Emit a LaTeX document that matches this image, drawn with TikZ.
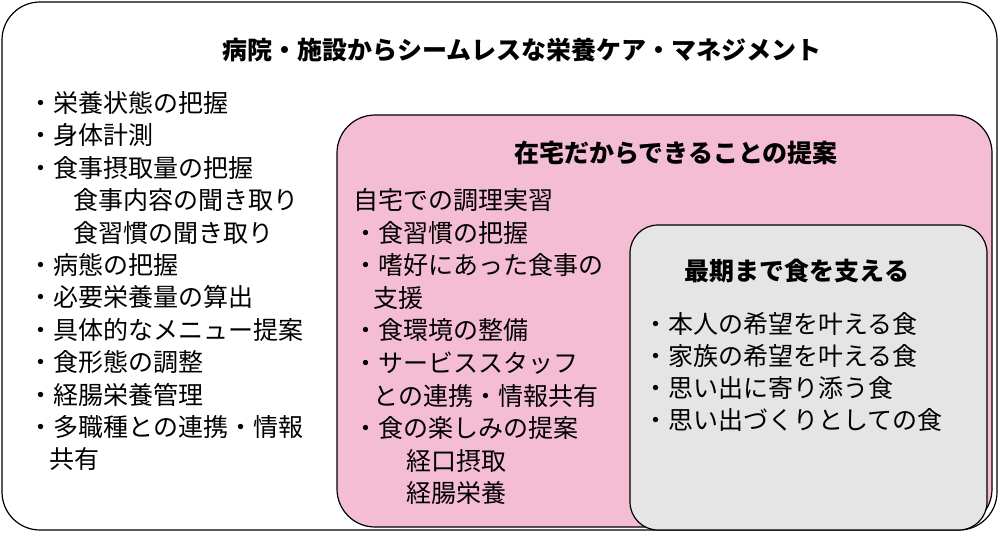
\documentclass[tikz,border=0pt]{standalone}
\usepackage{fontspec}
\setmainfont{Noto Sans CJK JP}
\definecolor{pinkbg}{RGB}{245,189,212}
\definecolor{graybg}{RGB}{229,229,229}
\tikzset{every picture/.style={line width=1.2pt}}
\tikzset{
  panel/.style={draw, rounded corners=38pt},
  item/.style={anchor=west, inner sep=0pt, font=\fontsize{25}{28}\selectfont},
  head/.style={inner sep=0pt, font=\fontsize{25}{28}\selectfont\bfseries}
}
\begin{document}
\begin{tikzpicture}[x=1pt,y=1pt,yscale=-1]
  \useasboundingbox (0,0) rectangle (1000,533);

  \draw [panel, fill=white] (2,2) rectangle (997,530);
  \draw [panel, fill=pinkbg] (337,115) rectangle (992,527);
  \draw [panel, fill=graybg, rounded corners=28pt] (630,225) rectangle (987,530);

  \node [head] (title) at (522,50) {病院・施設からシームレスな栄養ケア・マネジメント};
  \node [head] (hometitle) at (676,153) {在宅だからできることの提案};
  \node [head] (lasttitle) at (797,271) {最期まで食を支える};

  % left list
  \foreach \t [count=\i] in {・栄養状態の把握, ・身体計測, ・食事摂取量の把握,
      \hspace{1.8em}食事内容の聞き取り, \hspace{1.8em}食習慣の聞き取り, ・病態の把握,
      ・必要栄養量の算出, ・具体的なメニュー提案, ・食形態の調整, ・経腸栄養管理,
      ・多職種との連携・情報, \hspace{0.85em}共有}
    \node [item] (hosp\i) at (28,{103+32.4*(\i-1)}) {\t};

  % home list
  \foreach \t [count=\i] in {自宅での調理実習, ・食習慣の把握, ・嗜好にあった食事の,
      \hspace{0.8em}支援, ・食環境の整備, ・サービススタッフ, \hspace{0.8em}との連携・情報共有,
      ・食の楽しみの提案, \hspace{2.1em}経口摂取, \hspace{2.1em}経腸栄養}
    \node [item] (home\i) at (353,{200+32.6*(\i-1)}) {\t};

  % last list
  \foreach \t [count=\i] in {・本人の希望を叶える食, ・家族の希望を叶える食,
      ・思い出に寄り添う食, ・思い出づくりとしての食}
    \node [item] (last\i) at (643,{324+32*(\i-1)}) {\t};
\end{tikzpicture}
\end{document}
